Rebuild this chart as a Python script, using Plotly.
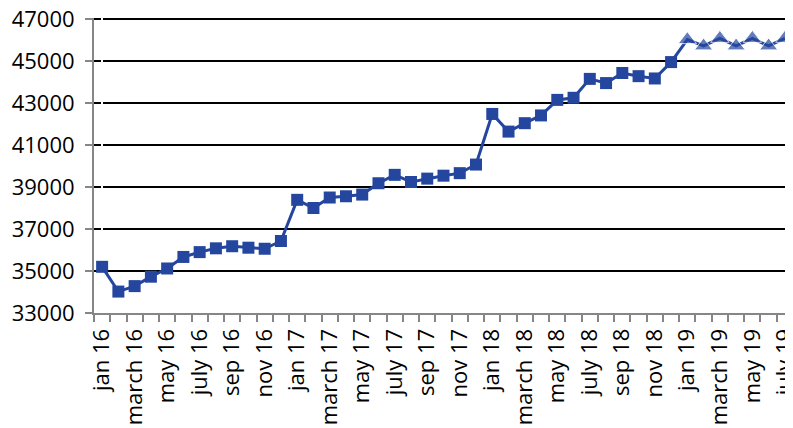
import plotly.graph_objects as go

months = ["jan", "feb", "march", "apr", "may", "june", "july", "aug", "sep", "oct", "nov", "dec"]
years = ["16", "17", "18", "19"]
categories = [f"{m} {y}" for y in years for m in months][:43]  # jan 16 .. july 19

actual_values = [
    35200, 34020, 34280, 34730, 35120, 35670, 35900, 36080, 36180, 36110, 36060, 36430,
    38390, 38000, 38500, 38560, 38640, 39180, 39580, 39240, 39400, 39540, 39660, 40070,
    42480, 41640, 42040, 42410, 43150, 43250, 44150, 43950, 44430, 44280, 44170, 44950,
]
forecast_values = [46020, 45720, 46080, 45720, 46080, 45720, 46080]

tick_labels = [c if i % 2 == 0 else "" for i, c in enumerate(categories)]

n = len(categories)
x_all = list(range(n))
n_act = len(actual_values)

color = "#24469E"

fig = go.Figure()
fig.add_trace(go.Scatter(
    x=x_all[:n_act], y=actual_values, mode="lines+markers",
    line=dict(color=color, width=3),
    marker=dict(symbol="square", size=12, color=color),
    showlegend=False, hoverinfo="skip",
))
fig.add_trace(go.Scatter(
    x=x_all[n_act - 1:n_act - 1 + len(forecast_values) + 1],
    y=[actual_values[-1]] + forecast_values, mode="lines+markers",
    line=dict(color=color, width=3),
    marker=dict(symbol="triangle-up", size=[0] + [16] * len(forecast_values), color=color),
    showlegend=False, hoverinfo="skip", cliponaxis=False,
))

fig.update_layout(
    width=785, height=420,
    margin=dict(l=86, r=0, t=10, b=115),
    paper_bgcolor="white", plot_bgcolor="white",
    font=dict(family="Open Sans", size=22, color="black"),
)
fig.update_xaxes(
    automargin=False,
    range=[-0.5, n - 0.5],
    tickmode="array", tickvals=x_all, ticktext=tick_labels,
    tickangle=-90, ticks="", showgrid=False,
    showline=True, linecolor="#868686", linewidth=2,
    minor=dict(ticks="outside", ticklen=7, tickcolor="#868686", tickwidth=2,
               tickmode="array", tickvals=[i - 0.5 for i in range(n + 1)], showgrid=False),
    tickfont=dict(size=22), ticklabelstandoff=5, ticklabeloverflow="allow",
)
fig.update_yaxes(
    automargin=False,
    range=[33000, 47050], dtick=2000, tick0=33000,
    showgrid=True, gridcolor="black", gridwidth=2,
    showline=True, linecolor="#868686", linewidth=2,
    ticks="outside", ticklen=7, tickcolor="#868686", tickwidth=2,
    zeroline=False, tickformat="d",
    tickfont=dict(size=22), ticklabelstandoff=6, ticklabeloverflow="allow",
)

fig.write_html("out.html")
